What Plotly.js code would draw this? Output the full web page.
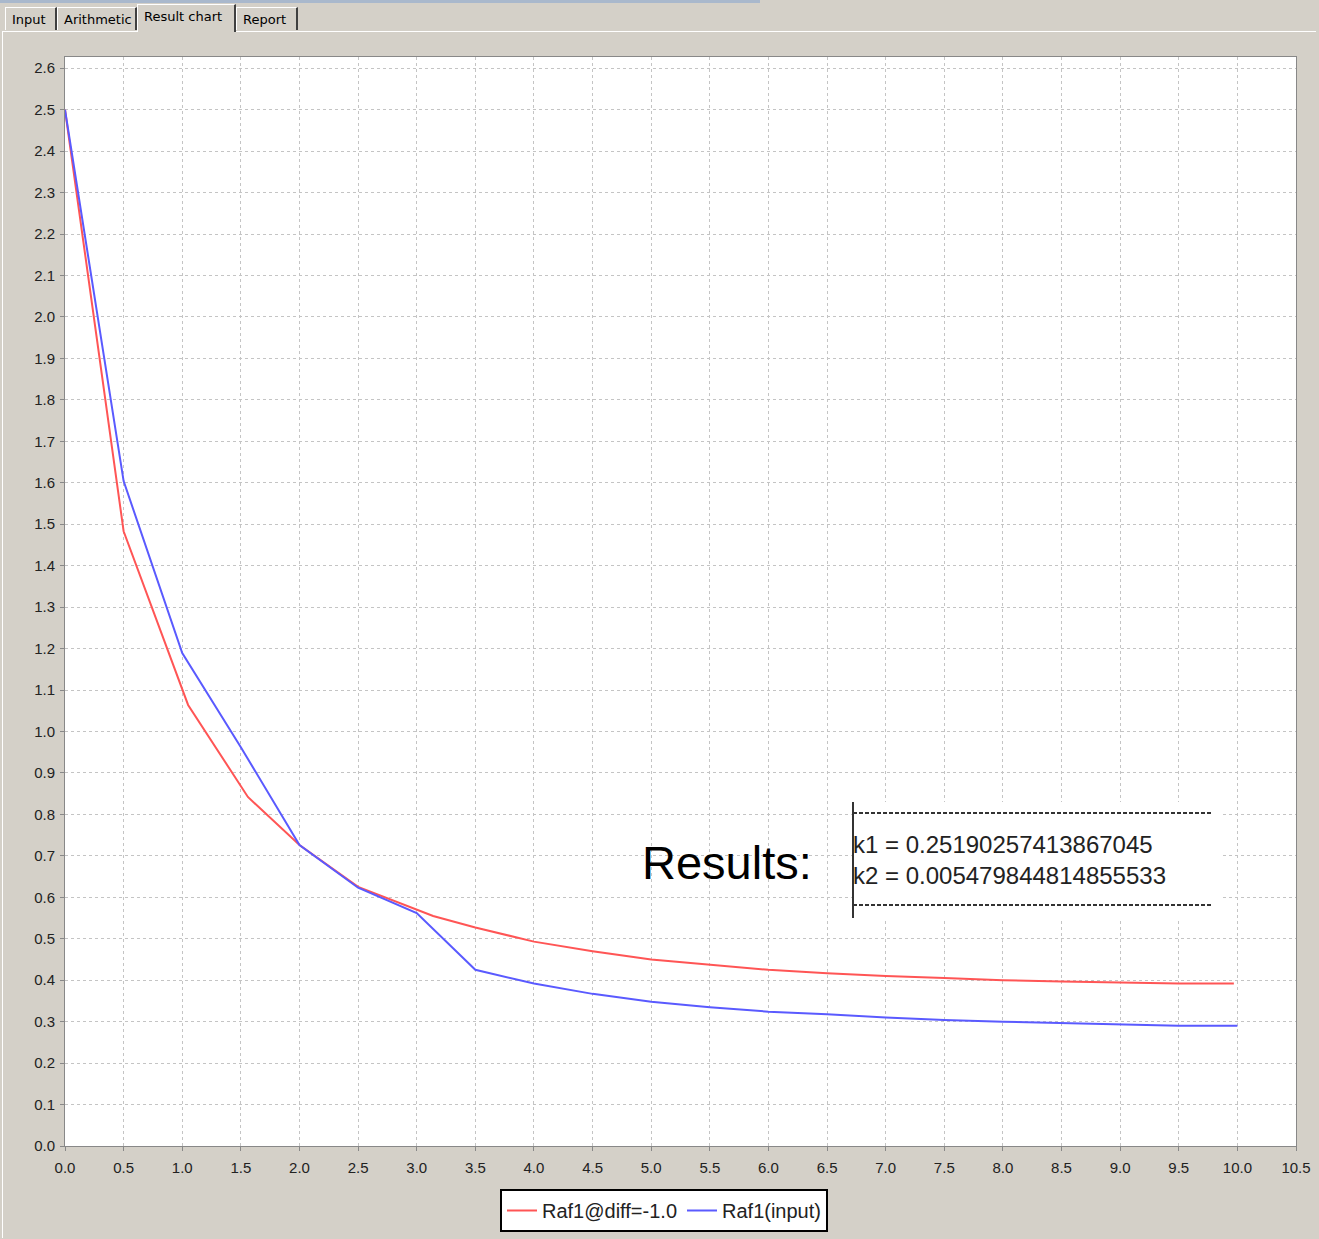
<!DOCTYPE html>
<html>
<head>
<meta charset="utf-8">
<script src="https://cdn.plot.ly/plotly-3.0.1.min.js"></script>
<style>
  html, body { margin:0; padding:0; background:#d4d0c8; width:1319px; height:1239px; overflow:hidden; }
  #chart { position:absolute; left:0; top:0; width:1319px; height:1239px; }
  .topbar { position:absolute; left:0; top:0; width:760px; height:3px; background:#a9b8cc; }
  .panel { position:absolute; left:2px; top:31px; width:1313px; height:1206px; border-top:1px solid #ffffff; border-left:1px solid #ffffff; }
  .tab { position:absolute; top:7px; height:23px; font-family:"DejaVu Sans","Liberation Sans",sans-serif; font-size:13px; color:#000;
         border-top:1px solid #fff; border-left:1px solid #fff; border-right:2px solid #404040; box-sizing:border-box; padding:4px 0 0 6px; background:#d4d0c8; z-index:5; }
  .tab.sel { top:4px; height:28px; background:#d4d0c8; }
</style>
</head>
<body>
<div class="topbar"></div>
<div class="panel"></div>
<div id="chart"></div>
<div class="tab" style="left:5px;width:52px;">Input</div>
<div class="tab" style="left:57px;width:80px;">Arithmetic</div>
<div class="tab sel" style="left:137px;width:99px;padding-top:4px;">Result chart</div>
<div class="tab" style="left:236px;width:62px;">Report</div>
<script>
// ---- data ----
const redName = "Raf1@diff=-1.0";
const redX = [0, 0.5, 1.05, 1.56, 2.0, 2.5, 3.14, 3.5, 4.0, 4.5, 5.0, 5.5, 6.0, 6.5, 7.0, 7.5, 8.0, 8.5, 9.0, 9.5, 9.97];
const redY = [2.5, 1.483, 1.064, 0.842, 0.726, 0.625, 0.555, 0.527, 0.493, 0.470, 0.450, 0.437, 0.425, 0.417, 0.410, 0.405, 0.400, 0.397, 0.395, 0.392, 0.392];

const blueName = "Raf1(input)";
const blueX = [0, 0.5, 1.0, 1.5, 2.0, 2.5, 3.0, 3.5, 4.0, 4.5, 5.0, 5.5, 6.0, 6.5, 7.0, 7.5, 8.0, 8.5, 9.0, 9.5, 10.0];
const blueY = [2.5, 1.604, 1.189, 0.962, 0.726, 0.623, 0.562, 0.425, 0.392, 0.367, 0.348, 0.335, 0.324, 0.318, 0.310, 0.304, 0.300, 0.297, 0.294, 0.290, 0.290];

const xTicks = [0,0.5,1,1.5,2,2.5,3,3.5,4,4.5,5,5.5,6,6.5,7,7.5,8,8.5,9,9.5,10,10.5];
const yTicks = [0,0.1,0.2,0.3,0.4,0.5,0.6,0.7,0.8,0.9,1.0,1.1,1.2,1.3,1.4,1.5,1.6,1.7,1.8,1.9,2.0,2.1,2.2,2.3,2.4,2.5,2.6];

const resultsLabel = "Results:";
const k1Text = "k1 = 0.25190257413867045";
const k2Text = "k2 = 0.005479844814855533";

// ---- layout helpers (pixel -> paper) ----
const L = 65, R = 1296, T = 57, B = 1146;
const px = v => (v - L) / (R - L);
const py = v => (B - v) / (B - T);

const font = "Liberation Sans, Arial, sans-serif";

const traces = [
  { x: redX, y: redY, name: redName, type: "scatter", mode: "lines",
    line: { color: "rgb(255,85,85)", width: 2 } },
  { x: blueX, y: blueY, name: blueName, type: "scatter", mode: "lines",
    line: { color: "rgb(90,90,255)", width: 2 } }
];

const axisCommon = {
  showgrid: true, gridcolor: "#c4c4c4", griddash: "3px,3px", gridwidth: 1,
  zeroline: false, showline: true, linecolor: "#888888", linewidth: 1, mirror: true,
  ticks: "outside", ticklen: 4, tickcolor: "#888888",
  tickfont: { family: font, size: 15, color: "#222" }
};

const layout = {
  width: 1319, height: 1239,
  margin: { l: L, r: 1319 - R, t: T, b: 1239 - B, autoexpand: false },
  paper_bgcolor: "rgba(0,0,0,0)",
  plot_bgcolor: "#ffffff",
  showlegend: true,
  legend: {
    orientation: "h", x: px(664), xanchor: "center", y: py(1189), yanchor: "top",
    bgcolor: "#ffffff", bordercolor: "#000000", borderwidth: 2,
    font: { family: font, size: 20, color: "#222" },
    itemwidth: 30, tracegroupgap: 0
  },
  xaxis: Object.assign({}, axisCommon, {
    range: [0, 10.5], tickvals: xTicks, ticktext: xTicks.map(v => v.toFixed(1)),
    ticklabelstandoff: 4
  }),
  yaxis: Object.assign({}, axisCommon, {
    range: [0, 2.627], tickvals: yTicks, ticktext: yTicks.map(v => v.toFixed(1)),
    ticklabelstandoff: 2
  }),
  shapes: [
    { type: "rect", xref: "paper", yref: "paper", x0: px(853), x1: px(1222), y0: py(918), y1: py(802),
      fillcolor: "#ffffff", line: { width: 0 }, layer: "above" },
    { type: "line", xref: "paper", yref: "paper", x0: px(853), x1: px(853), y0: py(918), y1: py(802),
      line: { color: "#333333", width: 2 } },
    { type: "line", xref: "paper", yref: "paper", x0: px(853), x1: px(1213), y0: py(813), y1: py(813),
      line: { color: "#333333", width: 2, dash: "4px,2px" } },
    { type: "line", xref: "paper", yref: "paper", x0: px(853), x1: px(1213), y0: py(905), y1: py(905),
      line: { color: "#333333", width: 2, dash: "4px,2px" } }
  ],
  annotations: [
    { xref: "paper", yref: "paper", x: px(727), y: py(862), xanchor: "center", yanchor: "middle",
      text: resultsLabel, showarrow: false, font: { family: font, size: 47, color: "#000" } },
    { xref: "paper", yref: "paper", x: px(851), y: py(844), xanchor: "left", yanchor: "middle",
      text: k1Text, showarrow: false, font: { family: font, size: 24, color: "#222" } },
    { xref: "paper", yref: "paper", x: px(851), y: py(875), xanchor: "left", yanchor: "middle",
      text: k2Text, showarrow: false, font: { family: font, size: 24, color: "#222" } }
  ]
};

Plotly.newPlot("chart", traces, layout, { staticPlot: true, displayModeBar: false });
</script>
</body>
</html>
